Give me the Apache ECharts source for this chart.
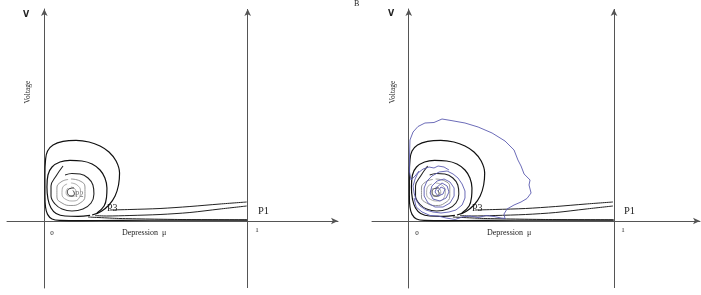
<!DOCTYPE html>
<html>
<head>
<meta charset="utf-8">
<script src="https://cdn.jsdelivr.net/npm/echarts@6/dist/echarts.min.js"></script>
<style>
html, body { margin: 0; padding: 0; background: #fff; }
#chart { width: 701px; height: 295px; }
</style>
</head>
<body>
<div id="chart"></div>
<script>
// trajectories in the (depression mu, voltage V) plane
const outerLoop = [[0.235,0.030],[0.279,0.048],[0.318,0.080],[0.348,0.125],[0.365,0.180],[0.370,0.240],[0.353,0.300],[0.318,0.345],[0.274,0.375],[0.220,0.395],[0.156,0.403],[0.092,0.398],[0.043,0.380],[0.016,0.350],[0.006,0.305],[0.003,0.230],[0.003,0.130],[0.006,0.070],[0.016,0.033],[0.038,0.010],[0.077,0.003],[0.176,0.002],[0.372,0.003],[0.667,0.004],[0.999,0.004]];
const secondLoop = [[0.259,0.040],[0.294,0.075],[0.306,0.120],[0.308,0.165],[0.298,0.215],[0.274,0.255],[0.235,0.285],[0.185,0.300],[0.126,0.303],[0.077,0.295],[0.038,0.270],[0.018,0.230],[0.013,0.170],[0.018,0.110],[0.033,0.065],[0.058,0.038],[0.102,0.025],[0.166,0.023],[0.225,0.028]];
const thirdLoop = [[0.092,0.275],[0.058,0.225],[0.033,0.175],[0.033,0.125],[0.053,0.085],[0.087,0.060],[0.136,0.050],[0.190,0.060],[0.230,0.090],[0.244,0.135],[0.239,0.180],[0.215,0.215],[0.176,0.235],[0.136,0.2375],[0.102,0.230]];
const grayRing1 = [[0.131,0.210],[0.176,0.200],[0.200,0.170],[0.200,0.125],[0.176,0.090],[0.131,0.0775],[0.087,0.090],[0.062,0.120],[0.062,0.165],[0.082,0.195],[0.117,0.2075]];
const grayRing2 = [[0.131,0.190],[0.161,0.180],[0.178,0.150],[0.171,0.115],[0.141,0.100],[0.107,0.1075],[0.087,0.135],[0.089,0.165],[0.112,0.185]];
const grayRing3 = [[0.131,0.170],[0.151,0.160],[0.156,0.140],[0.141,0.1225],[0.117,0.125],[0.107,0.145],[0.117,0.165]];
const centerCurl = [[0.146,0.165],[0.126,0.1625],[0.114,0.1475],[0.119,0.130],[0.136,0.125],[0.148,0.1375],[0.141,0.1525]];
const fromP1Upper = [[0.995,0.095],[0.864,0.085],[0.716,0.0725],[0.569,0.0625],[0.421,0.0575],[0.323,0.055]];
const fromP1Lower = [[0.995,0.075],[0.864,0.060],[0.716,0.0425],[0.569,0.0325],[0.421,0.0275],[0.306,0.025],[0.25,0.027]];
const bottomReturn = [[0.215,0.020],[0.372,0.0125],[0.667,0.0075],[0.997,0.006]];

// simulated (noisy) trajectory, panel B
const noisyInner = [[0.143,0.15],[0.157,0.17],[0.177,0.16],[0.167,0.135],[0.143,0.125],[0.128,0.145],[0.138,0.17],[0.162,0.19],[0.187,0.175],[0.196,0.145],[0.182,0.115],[0.152,0.10],[0.118,0.11],[0.104,0.14],[0.113,0.175],[0.138,0.20],[0.172,0.21],[0.201,0.195],[0.221,0.165],[0.221,0.125],[0.201,0.09],[0.167,0.07],[0.128,0.07],[0.094,0.09],[0.075,0.125],[0.075,0.165],[0.089,0.20],[0.113,0.225],[0.148,0.245],[0.187,0.25],[0.216,0.235],[0.240,0.215],[0.260,0.185],[0.274,0.15],[0.274,0.115],[0.260,0.08],[0.230,0.055],[0.196,0.045],[0.157,0.04],[0.118,0.045],[0.084,0.055],[0.055,0.075],[0.036,0.105],[0.026,0.14],[0.021,0.175],[0.031,0.21],[0.045,0.24],[0.070,0.26],[0.099,0.27],[0.123,0.265],[0.143,0.275],[0.172,0.27],[0.196,0.255]];
const noisyOuter = [[0.026,0.115],[0.036,0.07],[0.065,0.045],[0.104,0.0275],[0.143,0.025],[0.182,0.015],[0.226,0.0075],[0.260,0.02],[0.299,0.025],[0.338,0.0175],[0.377,0.0275],[0.415,0.0225],[0.450,0.015],[0.469,0.0125],[0.464,0.035],[0.479,0.06],[0.513,0.08],[0.547,0.095],[0.576,0.1125],[0.596,0.14],[0.586,0.18],[0.591,0.205],[0.562,0.235],[0.547,0.275],[0.532,0.305],[0.513,0.355],[0.469,0.40],[0.406,0.44],[0.338,0.47],[0.274,0.49],[0.206,0.5025],[0.162,0.51],[0.123,0.4925],[0.079,0.49],[0.045,0.4725],[0.021,0.445],[0.006,0.405],[0.004,0.33],[0.004,0.245],[0.011,0.205],[0.031,0.225],[0.050,0.25]];

const chart = echarts.init(document.getElementById('chart'));

const axisColor = '#555';
const serif = '"Liberation Serif", "DejaVu Serif", serif';

function xAxisFor(grid, min, max) {
  return {
    gridIndex: grid, type: 'value', min: min, max: max,
    axisLine: { show: true, onZero: true, symbol: ['none', 'arrow'], symbolSize: [5, 7], lineStyle: { color: axisColor, width: 1 } },
    axisTick: { show: false }, axisLabel: { show: false }, splitLine: { show: false }
  };
}
function yAxisFor(grid) {
  return {
    gridIndex: grid, type: 'value', min: -0.335, max: 1.06,
    axisLine: { show: true, onZero: true, symbol: ['none', 'arrow'], symbolSize: [5, 7], lineStyle: { color: axisColor, width: 1 } },
    axisTick: { show: false }, axisLabel: { show: false }, splitLine: { show: false }
  };
}

function curve(idx, data, color, width, smooth) {
  return {
    type: 'line', xAxisIndex: idx, yAxisIndex: idx, data: data,
    showSymbol: false, symbol: 'none', smooth: smooth, silent: true,
    lineStyle: { color: color, width: width }
  };
}

function panelSeries(idx) {
  const s = [
    curve(idx, outerLoop, '#111', 1.2, 0.4),
    curve(idx, secondLoop, '#111', 1.2, 0.4),
    curve(idx, thirdLoop, '#222', 1.1, 0.4),
    curve(idx, grayRing1, '#888', 0.9, 0.5),
    curve(idx, grayRing2, '#999', 0.8, 0.5),
    curve(idx, grayRing3, '#999', 0.8, 0.5),
    curve(idx, centerCurl, '#333', 1, 0.5),
    curve(idx, fromP1Upper, '#222', 1, 0.3),
    curve(idx, fromP1Lower, '#222', 1, 0.3),
    curve(idx, bottomReturn, '#222', 1, 0.2)
  ];
  // vertical line at mu = 1
  s[0].markLine = {
    silent: true, symbol: ['none', 'arrow'], symbolSize: [5, 7],
    label: { show: false },
    lineStyle: { color: axisColor, width: 1, type: 'solid' },
    data: [{ xAxis: 1 }]
  };
  return s;
}

function txt(x, y, text, size, opts) {
  return Object.assign({
    type: 'text', x: x, y: y,
    style: Object.assign({ text: text, fontSize: size, fontFamily: serif, fill: '#222', align: 'left', verticalAlign: 'middle' }, (opts && opts.style) || {})
  }, (opts && opts.el) || {});
}

const labels = [
  // panel A
  txt(26, 15, 'V', 8, { style: { fontFamily: '"DejaVu Sans", sans-serif', fontWeight: 'bold', align: 'center' } }),
  txt(28, 92, 'Voltage', 7.5, { el: { rotation: Math.PI / 2 }, style: { align: 'center' } }),
  txt(52, 233, '0', 7, { style: { align: 'center' } }),
  txt(122, 233, 'Depression  \u03bc', 8),
  txt(257, 230, '1', 7, { style: { align: 'center' } }),
  txt(258, 211, 'P1', 10.5),
  txt(107, 208.5, 'P3', 10),
  txt(75, 194.5, 'P2', 8, { style: { fill: '#777' } }),
  // panel B
  txt(354, 4, 'B', 8),
  txt(391, 14, 'V', 8, { style: { fontFamily: '"DejaVu Sans", sans-serif', fontWeight: 'bold', align: 'center' } }),
  txt(393, 92, 'Voltage', 7.5, { el: { rotation: Math.PI / 2 }, style: { align: 'center' } }),
  txt(417, 233, '0', 7, { style: { align: 'center' } }),
  txt(487, 233, 'Depression  \u03bc', 8),
  txt(623, 230, '1', 7, { style: { align: 'center' } }),
  txt(624, 211, 'P1', 10.5),
  txt(472, 208.5, 'P3', 10)
];

const option = {
  animation: false,
  backgroundColor: '#fff',
  grid: [
    { left: 7, top: 9, width: 331, height: 279 },
    { left: 372, top: 9, width: 328, height: 279 }
  ],
  xAxis: [xAxisFor(0, -0.1834, 1.444), xAxisFor(1, -0.179, 1.419)],
  yAxis: [yAxisFor(0), yAxisFor(1)],
  series: panelSeries(0).concat(panelSeries(1)).concat([
    curve(1, noisyInner, '#5b5bb0', 0.9, false),
    curve(1, noisyOuter, '#5b5bb0', 0.9, false)
  ]),
  graphic: labels
};

chart.setOption(option);
</script>
</body>
</html>
